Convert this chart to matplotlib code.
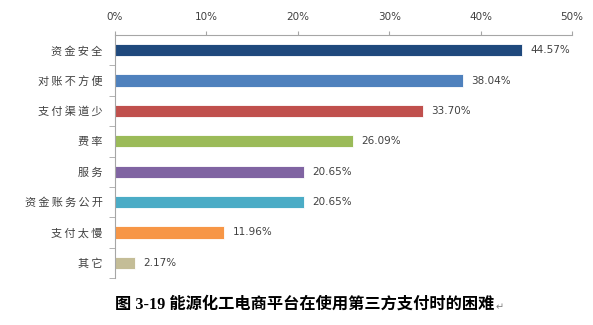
import matplotlib.pyplot as plt
from matplotlib.ticker import MultipleLocator, FuncFormatter

plt.rcParams['font.family'] = ['Noto Sans CJK SC', 'DejaVu Sans']

# 困难类别及占比（%）
categories = ["资金安全", "对账不方便", "支付渠道少", "费率", "服务", "资金账务公开", "支付太慢", "其它"]
values = [44.57, 38.04, 33.70, 26.09, 20.65, 20.65, 11.96, 2.17]
colors = ["#1F497D", "#4F81BD", "#C0504D", "#9BBB59", "#8064A2", "#4BACC6", "#F79646", "#C4BD97"]
title = "图 3-19 能源化工电商平台在使用第三方支付时的困难"

fig = plt.figure(figsize=(5.93, 3.25), dpi=100)
ax = fig.add_axes([115 / 593, 1 - 278 / 325, (572 - 115) / 593, (278 - 35) / 325])

pos = list(range(len(categories)))
ax.barh(pos, values, height=0.4, color=colors, edgecolor="white", linewidth=0.6)
for p, v in zip(pos, values):
    ax.text(v + 0.9, p, f"{v:.2f}%", va="center", ha="left", fontsize=7.5, color="#404040",
            family=["DejaVu Sans"])

ax.set_xlim(0, 50)
ax.set_ylim(len(categories) - 0.5, -0.5)
ax.xaxis.set_major_locator(MultipleLocator(10))
ax.xaxis.set_major_formatter(FuncFormatter(lambda x, _: f"{x:.0f}%"))
ax.xaxis.tick_top()
ax.tick_params(axis="x", colors="#A6A6A6", labelcolor="#404040", labelsize=7.5, length=3, direction="out", pad=6)
for lbl in ax.get_xticklabels():
    lbl.set_family(["DejaVu Sans"])

# 类别文字加细空格拉开字距
spaced = ["\u2009".join(c) for c in categories]
ax.set_yticks(pos)
ax.set_yticklabels(spaced, fontsize=8, color="#404040")
ax.set_yticks([p + 0.5 for p in pos], minor=True)
ax.tick_params(axis="y", which="major", length=0, pad=9)
ax.tick_params(axis="y", which="minor", length=4, color="#A6A6A6")

for side in ["right", "bottom"]:
    ax.spines[side].set_visible(False)
ax.spines["top"].set_color("#A6A6A6")
ax.spines["left"].set_color("#A6A6A6")

t = fig.text(305 / 593, 1 - 305 / 325, title, ha="center", va="center", fontsize=11.7,
             fontweight="bold", color="black", family=["Liberation Serif", "Noto Sans CJK SC"])
fig.canvas.draw()
bb = t.get_window_extent().transformed(fig.transFigure.inverted())
fig.text(bb.x1 + 0.002, 1 - 307 / 325, "↵", ha="left", va="center", fontsize=7, color="#808080",
         family=["DejaVu Sans"])

fig.savefig("out.png", dpi=100)
